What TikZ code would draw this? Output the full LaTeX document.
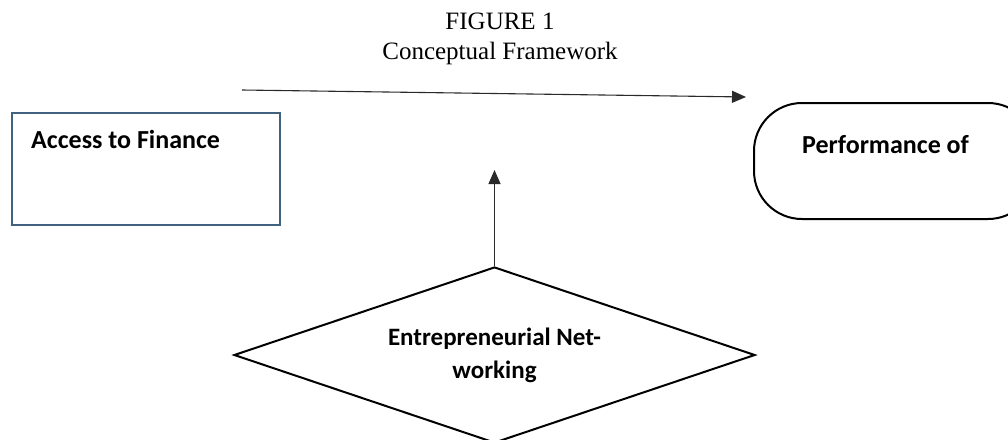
\documentclass[tikz,border=0pt]{standalone}
\usepackage{fontspec}
\setmainfont{Liberation Serif}
\newfontfamily\boxfont{Carlito}
\usetikzlibrary{shapes.geometric,arrows.meta}
\definecolor{framecol}{HTML}{41627E}
\definecolor{arrowcol}{HTML}{2A2A2A}
\tikzset{
  boxlabel/.style={font=\boxfont\bfseries\fontsize{26}{32}\selectfont, inner sep=0pt},
  titletext/.style={font=\fontsize{25}{30}\selectfont, inner sep=0pt},
  flow/.style={draw=arrowcol, line width=1.1pt, -{Triangle[length=14pt,width=12pt]}},
  shapeline/.style={draw=black, line width=2pt},
}
\begin{document}
\begin{tikzpicture}[x=1pt,y=-1pt]
  \useasboundingbox (0,0) rectangle (1008,439);
  \clip (0,0) rectangle (1008,439);

  % title
  \node[titletext, anchor=base] (fig) at (500,29) {FIGURE 1};
  \node[titletext, anchor=base] (sub) at (500,59) {Conceptual Framework};

  % independent variable
  \node[draw=framecol, line width=2pt, minimum width=268pt, minimum height=112pt,
        inner sep=0pt, anchor=north west] (finance) at (11,112) {};
  \node[boxlabel, anchor=base west] (financetxt) at (31,148) {Access to Finance};

  % dependent variable
  \node[shapeline, rounded corners=48pt, minimum width=282pt, minimum height=116pt,
        inner sep=0pt, anchor=north west] (perf) at (753,102) {};
  \node[boxlabel, anchor=base west] (perftxt) at (802,153) {Performance of};

  % moderating variable
  \node[shapeline, diamond, shape aspect=2.96, minimum width=521pt, minimum height=176pt,
        inner sep=0pt, align=center, font=\boxfont\bfseries\fontsize{25}{33}\selectfont]
        (net) at (494.5,355) {Entrepreneurial Net-\\working};

  % connectors
  \coordinate (hstart) at (242,90);
  \coordinate (hend) at (746,97);
  \draw[flow] (hstart) -- (hend);
  \coordinate (vend) at (net.north |- 0,170);
  \draw[flow] (net.north) -- (vend);
\end{tikzpicture}
\end{document}
